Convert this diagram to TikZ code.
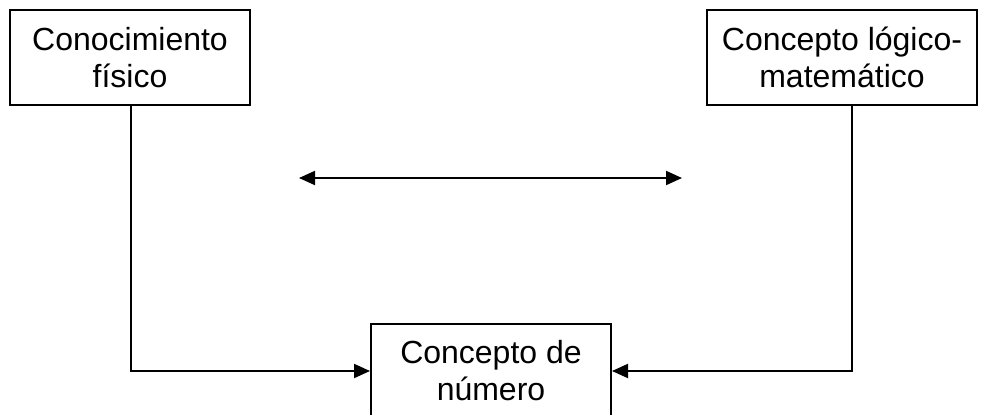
\documentclass[tikz,border=0pt]{standalone}
\usepackage{fontspec}
\setmainfont{Liberation Sans}
\usetikzlibrary{arrows.meta}
\begin{document}
\begin{tikzpicture}[x=1pt,y=-1pt,
  box/.style={draw=black,line width=2pt,rectangle,inner sep=0pt,align=center,
    font=\fontsize{32}{37}\selectfont},
  conn/.style={draw=black,line width=2pt},
  tip/.style={-{Triangle[length=16pt,width=14pt]}}]
\useasboundingbox (0,0) rectangle (986,415);
\clip (0,0) rectangle (986,415);
\fill[white] (0,0) rectangle (986,415);
\node[box,minimum width=240pt,minimum height=95pt] (lb) at (130,57.5) {Conocimiento\\físico};
\node[box,minimum width=270pt,minimum height=95pt] (rb) at (842,57.5) {Concepto lógico-\\matemático};
\node[box,minimum width=240pt,minimum height=95pt] (bb) at (491,371) {Concepto de\\número};
\coordinate (a1) at (299,178);
\coordinate (a2) at (682,178);
\draw[conn,{Triangle[length=16pt,width=14pt]}-{Triangle[length=16pt,width=14pt]}] (a1) -- (a2);
\draw[conn,tip] ([xshift=1pt]lb.south) |- (bb.west);
\draw[conn,tip] ([xshift=10pt]rb.south) |- (bb.east);
\end{tikzpicture}
\end{document}
